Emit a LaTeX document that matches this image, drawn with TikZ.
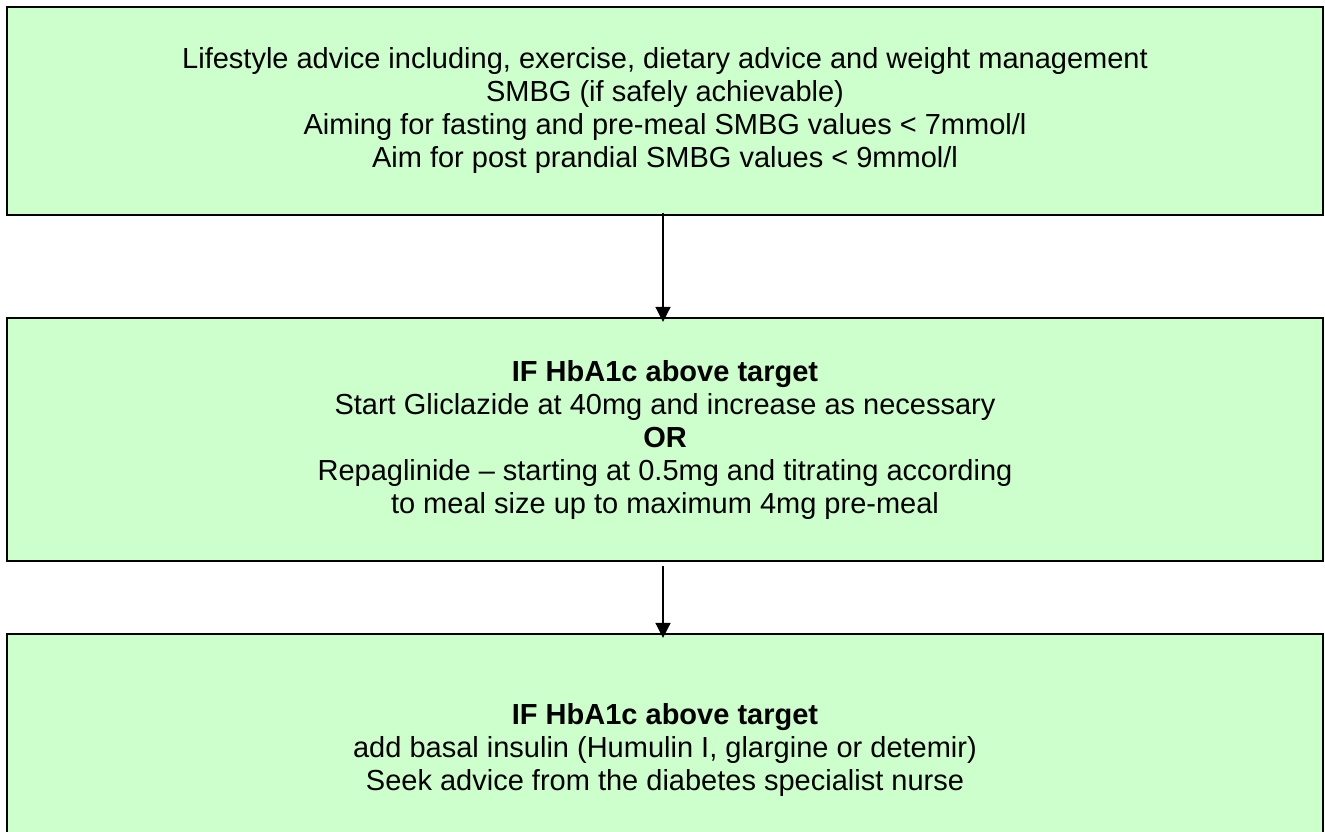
\documentclass[tikz,border=0pt]{standalone}
\usepackage{fontspec}
\setmainfont{Liberation Sans}
\usetikzlibrary{arrows.meta}
\definecolor{boxgreen}{HTML}{CCFFCC}
\tikzset{
  stage/.style={draw=black, line width=2.2pt, fill=boxgreen, minimum width=1316pt,
    inner sep=0pt, align=center, font=\fontsize{29}{33}\selectfont},
  link/.style={line width=1.6pt, -{Triangle[width=15pt,length=15pt]}}
}
\begin{document}
\begin{tikzpicture}[x=1pt,y=-1pt]
\useasboundingbox (0,0) rectangle (1325,832);
\clip (0,0) rectangle (1325,832);

% treatment stages
\node[stage, minimum height=208pt] (life) at (665,111)
  {Lifestyle advice including, exercise, dietary advice and weight management\\
   SMBG (if safely achievable)\\
   Aiming for fasting and pre-meal SMBG values < 7mmol/l\\
   Aim for post prandial SMBG values < 9mmol/l};

\node[stage, minimum height=243pt] (oral) at (665,439.5)
  {\textbf{IF HbA1c above target}\\
   Start Gliclazide at 40mg and increase as necessary\\
   \textbf{OR}\\
   Repaglinide -- starting at 0.5mg and titrating according\\
   to meal size up to maximum 4mg pre-meal};

\node[stage, minimum height=232pt] (insulin) at (665,750)
  {\textbf{IF HbA1c above target}\\
   add basal insulin (Humulin I, glargine or detemir)\\
   Seek advice from the diabetes specialist nurse};

% escalation arrows
\draw[link] ([xshift=-2pt,yshift=3pt]life.south) -- ([xshift=-2pt,yshift=-5pt]oral.north);
\draw[link] ([xshift=-2pt,yshift=-4pt]oral.south) -- ([xshift=-2pt,yshift=-5pt]insulin.north);
\end{tikzpicture}
\end{document}
